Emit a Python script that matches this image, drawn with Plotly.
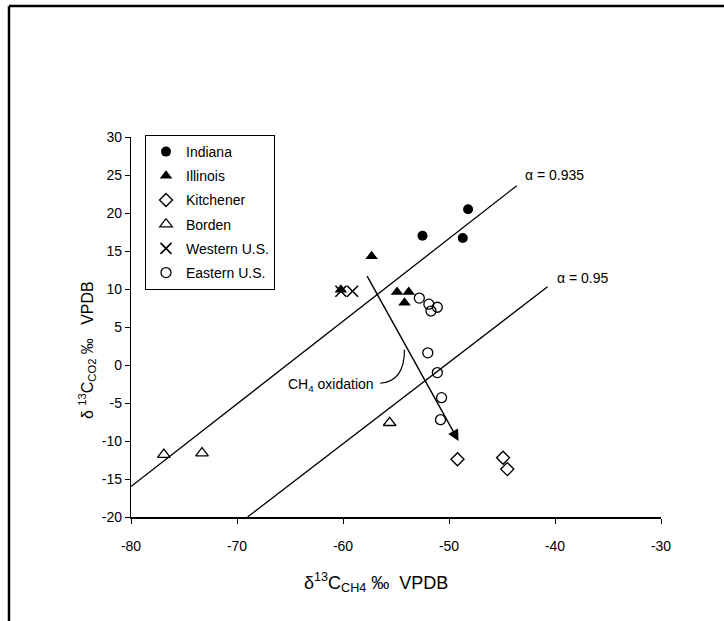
import plotly.graph_objects as go

# ---- data ----
indiana_x = [-52.5, -48.2, -48.7]
indiana_y = [17.0, 20.5, 16.7]

illinois_x = [-57.3, -54.9, -53.8, -54.2, -60.2]
illinois_y = [14.3, 9.6, 9.6, 8.2, 9.9]

kitchener_x = [-49.2, -44.9, -44.5]
kitchener_y = [-12.4, -12.2, -13.7]

borden_x = [-76.9, -73.3, -55.6]
borden_y = [-11.8, -11.6, -7.6]

western_x = [-60.2, -59.1]
western_y = [9.7, 9.7]

eastern_x = [-52.8, -51.9, -51.7, -51.1, -52.0, -51.1, -50.7, -50.8]
eastern_y = [8.8, 8.0, 7.1, 7.6, 1.6, -1.0, -4.3, -7.2]

line935_x = [-80.0, -43.6]
line935_y = [-16.0, 23.6]
line95_x = [-69.0, -40.7]
line95_y = [-20.0, 10.3]

arrow_start = (-57.8, 11.9)
arrow_end = (-49.1, -10.0)

x_ticks = [-80, -70, -60, -50, -40, -30]
x_ticktext = ["-80", "-70", "-60", "-50", "-40", "-30"]
y_ticks = [-20, -15, -10, -5, 0, 5, 10, 15, 20, 25, 30]
y_ticktext = ["-20", "-15", "-10", "-5", "0", "5", "10", "15", "20", "25", "30"]

FONT = "Liberation Sans, Arial, sans-serif"

fig = go.Figure()

# fractionation lines
fig.add_trace(go.Scatter(x=line935_x, y=line935_y, mode="lines",
                         line=dict(color="black", width=1.3), showlegend=False, hoverinfo="skip"))
fig.add_trace(go.Scatter(x=line95_x, y=line95_y, mode="lines",
                         line=dict(color="black", width=1.3), showlegend=False, hoverinfo="skip"))

series = [
    ("Indiana", indiana_x, indiana_y, dict(symbol="circle", size=10, color="black")),
    ("Illinois", illinois_x, illinois_y, dict(symbol="triangle-up", size=11, color="black")),
    ("Kitchener", kitchener_x, kitchener_y, dict(symbol="diamond-open", size=10, color="black", line=dict(width=1.4))),
    ("Borden", borden_x, borden_y, dict(symbol="triangle-up-open", size=11, color="black", line=dict(width=1.3))),
    ("Western U.S.", western_x, western_y, dict(symbol="x-thin-open", size=11, color="black", line=dict(width=1.6, color="black"))),
    ("Eastern U.S.", eastern_x, eastern_y, dict(symbol="circle-open", size=10, color="black", line=dict(width=1.3))),
]
for i, (name, xs, ys, mk) in enumerate(series):
    fig.add_trace(go.Scatter(x=xs, y=ys, mode="markers", name=name, marker=mk,
                             legendgroup=f"g{i}"))

# frame lines (top and left)
PL, PR, PT, PB = 131, 661, 137, 517
W, H = 724, 621
def px(x):
    return (x - PL) / (PR - PL)
def py(y):
    return (PB - y) / (PB - PT)

shapes = [
    dict(type="line", xref="paper", yref="paper", x0=px(9), x1=px(724), y0=py(6), y1=py(6),
         line=dict(color="black", width=2.5)),
    dict(type="line", xref="paper", yref="paper", x0=px(9), x1=px(9), y0=py(6), y1=py(621),
         line=dict(color="black", width=2.5)),
    dict(type="path", xref="x", yref="y",
         path="M -56.5,-2.4 Q -54.2,-2.2 -54.2,2.0",
         line=dict(color="black", width=1.2)),
]

annotations = [
    dict(x=arrow_end[0], y=arrow_end[1], ax=arrow_start[0], ay=arrow_start[1],
         xref="x", yref="y", axref="x", ayref="y", text="", showarrow=True,
         arrowhead=2, arrowsize=1.6, arrowwidth=1.4, arrowcolor="black"),
    dict(x=-56.9, y=-2.6, xref="x", yref="y", text="CH<sub>4</sub> oxidation", showarrow=False,
         xanchor="right", font=dict(family=FONT, size=14, color="black")),
    dict(x=-43.0, y=25.0, xref="x", yref="y", text="α = 0.935", showarrow=False,
         xanchor="left", font=dict(family=FONT, size=14, color="black")),
    dict(x=-40.0, y=11.4, xref="x", yref="y", text="α = 0.95", showarrow=False,
         xanchor="left", font=dict(family=FONT, size=14, color="black")),
    dict(x=px(376), y=py(582), xref="paper", yref="paper", xanchor="center", yanchor="middle",
         text="δ<sup>13</sup>C<sub>CH4</sub> ‰&nbsp;&nbsp;VPDB", showarrow=False,
         font=dict(family=FONT, size=18, color="black")),
    dict(x=px(87), y=py(350), xref="paper", yref="paper", textangle=-90,
         xanchor="center", yanchor="middle",
         text="δ <sup>13</sup>C<sub>CO2</sub> ‰&nbsp;&nbsp;&nbsp;VPDB", showarrow=False,
         font=dict(family=FONT, size=16, color="black")),
]

fig.update_layout(
    width=W, height=H,
    margin=dict(l=PL, r=W - PR, t=PT, b=H - PB, pad=0),
    paper_bgcolor="white", plot_bgcolor="white",
    font=dict(family=FONT, size=14, color="black"),
    shapes=shapes, annotations=annotations,
    legend=dict(x=px(145), y=py(135), xanchor="left", yanchor="top",
                bordercolor="black", borderwidth=1, bgcolor="white",
                font=dict(family=FONT, size=14, color="black"),
                tracegroupgap=3, itemwidth=30),
    showlegend=True,
)
fig.update_xaxes(range=[-80, -30], tickvals=x_ticks, ticktext=x_ticktext, ticks="outside", ticklen=5,
                 tickcolor="black", showline=True, linecolor="black", linewidth=1.5,
                 showgrid=False, zeroline=False, tickfont=dict(size=14), ticklabelstandoff=10)
fig.update_yaxes(range=[-20, 30], tickvals=y_ticks, ticktext=y_ticktext, ticks="outside", ticklen=5,
                 tickcolor="black", showline=True, linecolor="black", linewidth=1.3,
                 showgrid=False, zeroline=False, tickfont=dict(size=14))

fig.write_html("out.html")
